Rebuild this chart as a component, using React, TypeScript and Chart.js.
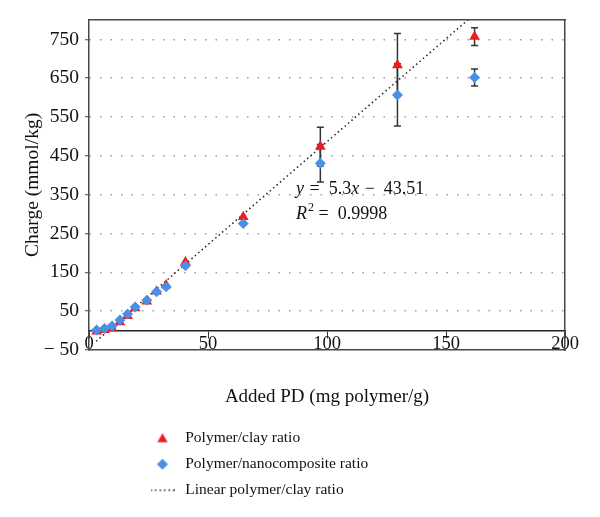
import React, { useEffect, useRef } from 'react';
import { Chart, registerables } from 'chart.js';
import { drawPoint } from 'chart.js/helpers';

Chart.register(...registerables);

const FONT_FAMILY = '"Liberation Serif", "Times New Roman", serif';
Chart.defaults.font.family = FONT_FAMILY;
Chart.defaults.color = '#111';

// ---- data ----
const X_VALUES = [3.2, 6.5, 9.7, 13, 16.2, 19.4, 24.3, 28.4, 32.4, 40.5, 64.8, 97.2, 129.6, 162];
const CLAY = [-2, 2, 6, 22, 38, 58, 75, 101, 117, 176, 293, 474, 684, 757];
const CLAY_ERR = [0, 0, 0, 0, 0, 0, 0, 0, 0, 0, 0, 50, 81, 23];
const NANO = [1.5, 5.6, 11.6, 27, 42.5, 61, 78, 100, 113, 167, 276, 431, 607, 652];
const NANO_ERR = [0, 0, 0, 0, 0, 0, 0, 0, 0, 0, 0, 48, 80, 22];
const TREND_X = [3, 165];
const TREND_Y = [-27.6, 831];
const Y_TICKS = [-50, 50, 150, 250, 350, 450, 550, 650, 750];
const Y_TICK_LABELS = ['\u2212 50', '50', '150', '250', '350', '450', '550', '650', '750'];
const SERIES_NAMES = ['Polymer/clay ratio', 'Polymer/nanocomposite ratio', 'Linear polymer/clay ratio'];
const X_TITLE = 'Added PD (mg polymer/g)';
const Y_TITLE = 'Charge (mmol/kg)';
const EQ_LINE1 = [
  { text: 'y', italic: true },
  { text: ' =  5.3' },
  { text: 'x', italic: true },
  { text: ' \u2212  43.51' },
];
const EQ_LINE2 = [
  { text: 'R', italic: true },
  { text: '2', sup: true },
  { text: ' =  0.9998' },
];
const EQ_ANCHOR_X = 87;
const EQ_ANCHOR_Y = [363, 300];

const RED = '#ec1c24';
const BLUE = '#4a8fe6';
const FRAME = '#474747';

const errorBars = {
  id: 'errorBars',
  beforeDatasetsDraw(chart: any) {
    const { ctx } = chart;
    const x = chart.scales.x;
    const y = chart.scales.y;
    ctx.save();
    ctx.strokeStyle = '#333';
    ctx.lineWidth = 1.5;
    const sets: [number[], number[]][] = [[CLAY, CLAY_ERR], [NANO, NANO_ERR]];
    sets.forEach(([vals, errs]) => {
      X_VALUES.forEach((xv, i) => {
        const e = errs[i];
        if (!e) return;
        const px = x.getPixelForValue(xv);
        const top = y.getPixelForValue(vals[i] + e);
        const bot = y.getPixelForValue(vals[i] - e);
        ctx.beginPath();
        ctx.moveTo(px, top);
        ctx.lineTo(px, bot);
        ctx.moveTo(px - 3.5, top);
        ctx.lineTo(px + 3.5, top);
        ctx.moveTo(px - 3.5, bot);
        ctx.lineTo(px + 3.5, bot);
        ctx.stroke();
      });
    });
    ctx.restore();
  },
};

const equation = {
  id: 'equation',
  afterDatasetsDraw(chart: any) {
    const { ctx } = chart;
    const x = chart.scales.x;
    const y = chart.scales.y;
    const px = x.getPixelForValue(EQ_ANCHOR_X);
    ctx.save();
    ctx.fillStyle = '#111';
    ctx.textAlign = 'left';
    ctx.textBaseline = 'middle';
    const drawRuns = (runs: any[], py: number) => {
      let cx = px;
      runs.forEach((r) => {
        const size = r.sup ? 12 : 18;
        ctx.font = `${r.italic ? 'italic ' : ''}${size}px ${FONT_FAMILY}`;
        ctx.fillText(r.text, cx, py + (r.sup ? -6 : 0));
        cx += ctx.measureText(r.text).width + (r.italic ? 1 : 0);
      });
    };
    drawRuns(EQ_LINE1, y.getPixelForValue(EQ_ANCHOR_Y[0]));
    drawRuns(EQ_LINE2, y.getPixelForValue(EQ_ANCHOR_Y[1]));
    ctx.restore();
  },
};

const LEGEND_LEFT = 129;
const LEGEND_WIDTH = 300;
const legendColumn = {
  id: 'legendColumn',
  beforeLayout(chart: any) {
    const lg = chart.legend;
    if (lg && !lg.__col) {
      lg.__col = true;
      const orig = lg.update.bind(lg);
      lg.update = (mw: number, mh: number, margins: any) => orig(Math.min(mw, LEGEND_WIDTH), mh, margins);
    }
  },
  afterLayout(chart: any) {
    const lg = chart.legend;
    if (lg) {
      lg.left = LEGEND_LEFT;
      lg.right = LEGEND_LEFT + LEGEND_WIDTH;
      lg.width = LEGEND_WIDTH;
    }
  },
};

function makeIcon(w: number, h: number, draw: (ctx: CanvasRenderingContext2D) => void) {
  const c = document.createElement('canvas');
  c.width = w;
  c.height = h;
  const ctx = c.getContext('2d')!;
  draw(ctx);
  return c;
}

export default function App() {
  const ref = useRef<HTMLCanvasElement | null>(null);
  useEffect(() => {
    if (!ref.current) return;
    const icons = [
      makeIcon(14, 13, (ctx) => {
        ctx.fillStyle = RED;
        drawPoint(ctx, { pointStyle: 'triangle', radius: 6, borderWidth: 0, rotation: 0 } as any, 7, 7.5);
      }),
      makeIcon(14, 14, (ctx) => {
        ctx.fillStyle = BLUE;
        drawPoint(ctx, { pointStyle: 'rectRot', radius: 5.5, borderWidth: 0, rotation: 0 } as any, 7, 7);
      }),
      makeIcon(24, 4, (ctx) => {
        ctx.strokeStyle = '#222';
        ctx.lineWidth = 1.5;
        ctx.setLineDash([1.5, 3]);
        drawPoint(ctx, { pointStyle: 'line', radius: 12, borderWidth: 1.5, rotation: 0 } as any, 12, 2);
      }),
    ];
    const frameAxis = (position: string, extra: any = {}) => ({
      type: 'linear',
      position,
      ticks: { display: false },
      grid: { display: false, drawTicks: false, tickLength: 0 },
      border: { display: true, color: FRAME, width: 1.5 },
      ...extra,
    });
    const chart = new Chart(ref.current, {
      type: 'scatter',
      data: {
        datasets: [
          {
            label: SERIES_NAMES[0],
            data: X_VALUES.map((x, i) => ({ x, y: CLAY[i] })),
            pointStyle: 'triangle',
            pointRadius: 6.2,
            backgroundColor: RED,
            borderColor: RED,
            borderWidth: 0,
            order: 2,
          },
          {
            label: SERIES_NAMES[1],
            data: X_VALUES.map((x, i) => ({ x, y: NANO[i] })),
            pointStyle: 'rectRot',
            pointRadius: 5.5,
            backgroundColor: BLUE,
            borderColor: BLUE,
            borderWidth: 0,
            order: 1,
          },
          {
            label: SERIES_NAMES[2],
            type: 'line',
            data: TREND_X.map((x, i) => ({ x, y: TREND_Y[i] })),
            showLine: true,
            pointRadius: 0,
            borderColor: '#222',
            borderWidth: 1.5,
            borderDash: [1.5, 3],
            fill: false,
            order: 3,
          } as any,
        ],
      },
      options: {
        responsive: false,
        animation: false,
        layout: { padding: { top: 12, right: 27, bottom: 1, left: 0 } },
        plugins: {
          tooltip: { enabled: false },
          legend: {
            position: 'bottom',
            align: 'start',
            labels: {
              usePointStyle: true,
              pointStyleWidth: 30,
              boxHeight: 12,
              padding: 10.5,
              color: '#111',
              font: { size: 15.5 },
              sort: (a: any, b: any) => a.datasetIndex - b.datasetIndex,
              generateLabels: (ch: any) => {
                const items = (Chart.defaults.plugins.legend.labels as any).generateLabels(ch);
                return items.map((it: any) => ({ ...it, pointStyle: icons[it.datasetIndex], rotation: 0 }));
              },
            },
          },
        },
        scales: {
          x: {
            type: 'linear',
            position: { y: 0 } as any,
            min: 0,
            max: 200,
            ticks: { stepSize: 50, padding: -5, color: '#111', font: { size: 18.5 }, maxRotation: 0, autoSkip: false },
            grid: { drawOnChartArea: false, drawTicks: true, tickLength: 7, tickColor: '#333', tickWidth: 1 },
            border: { display: true, color: '#222', width: 1.5 },
            afterFit: (s: any) => { s.paddingLeft = 0; s.paddingRight = 0; },
          },
          xb: frameAxis('bottom', {
            min: 0,
            max: 200,
            title: { display: true, text: X_TITLE, color: '#111', font: { size: 19 }, padding: { top: 35, bottom: 12 } },
            afterFit: (s: any) => { s.height = 70; },
          }),
          xt: frameAxis('top', { min: 0, max: 200, afterFit: (s: any) => { s.height = 0; } }),
          y: {
            type: 'linear',
            position: 'left',
            min: -50,
            max: 800,
            afterBuildTicks: (s: any) => { s.ticks = Y_TICKS.map((v) => ({ value: v })); },
            ticks: {
              callback: (_v: any, i: number) => Y_TICK_LABELS[i],
              color: '#111',
              font: { size: 19.5 },
              padding: 6,
            },
            grid: {
              color: (c: any) => (c.tick && c.tick.value === -50 ? 'rgba(0,0,0,0)' : '#9c9c9c'),
              lineWidth: 1.5,
              tickLength: 4,
              tickColor: '#444',
              tickWidth: 1,
            },
            border: { display: true, color: FRAME, width: 1.5, dash: [1.5, 9] },
            title: { display: true, text: Y_TITLE, color: '#111', font: { size: 19.5 }, padding: { top: 13, bottom: 0 } },
            afterFit: (s: any) => { s.width = 81; s.paddingTop = 0; s.paddingBottom = 0; },
          },
          yr: frameAxis('right', { min: -50, max: 800, afterFit: (s: any) => { s.width = 0; } }),
        } as any,
      },
      plugins: [errorBars, equation, legendColumn],
    } as any);
    return () => chart.destroy();
  }, []);
  return (
    <div style={{ width: 584, height: 501 }}>
      <canvas ref={ref} width={584} height={501} style={{ display: 'block' }} />
    </div>
  );
}
